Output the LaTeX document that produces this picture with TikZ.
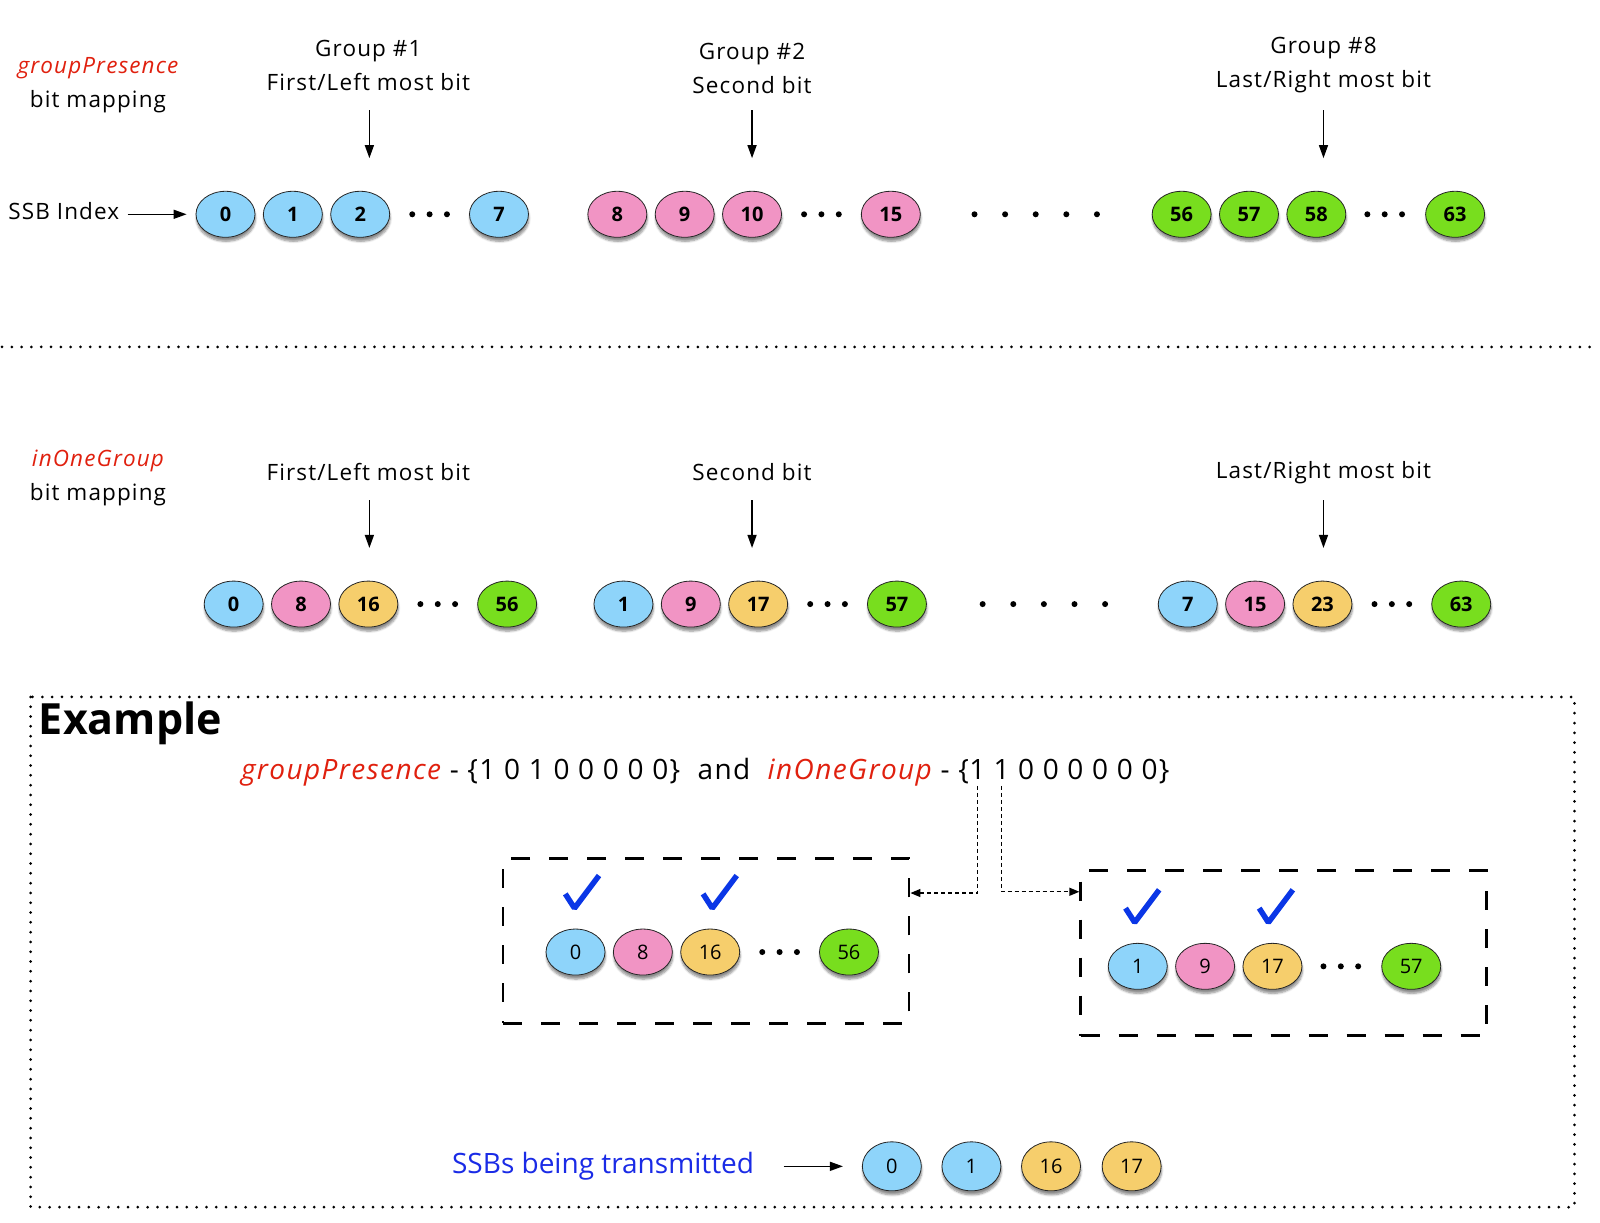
\documentclass[tikz,border=0pt]{standalone}
\usepackage{fontspec}
\setmainfont{Open Sans}
\newfontfamily\widefont{Open Sans}[LetterSpace=5]
\usetikzlibrary{arrows.meta,shapes.geometric,shadows.blur,calc}
\definecolor{cblue}{HTML}{8ED4FA}
\definecolor{cpink}{HTML}{F194C4}
\definecolor{cyell}{HTML}{F6CE6C}
\definecolor{cgreen}{HTML}{78DE1E}
\definecolor{cred}{HTML}{E0200E}
\definecolor{ctxtblue}{HTML}{1A2BE6}
\definecolor{checkblue}{HTML}{0A36E6}
\tikzset{
  ssb/.style={ellipse, draw=black!85, line width=0.8pt, minimum width=59pt, minimum height=46pt,
    inner sep=0pt, font=\fontsize{20}{20}\selectfont\bfseries,
    blur shadow={shadow xshift=0.5pt, shadow yshift=-4pt, shadow blur steps=6, shadow opacity=45}},
  ssbl/.style={ssb, font=\fontsize{20}{20}\selectfont},
  ssbc/.style={ssb, minimum width=59pt, minimum height=49pt, font=\fontsize{20}{20}\selectfont},
  sb/.style={fill=cblue}, sp/.style={fill=cpink}, sy/.style={fill=cyell}, sg/.style={fill=cgreen},
  lbl/.style={align=center, font=\widefont\fontsize{22.5}{34}\selectfont, inner sep=0pt},
  downarr/.style={line width=1.4pt, -{Triangle[length=13pt,width=9pt]}},
  dotline/.style={line width=3pt, line cap=round, dash pattern=on 0pt off 9.8pt},
  dbox/.style={draw, line width=2.6pt, dash pattern=on 19pt off 19pt, minimum width=406pt,
    minimum height=165pt, inner sep=0pt},
  darrow/.style={line width=1.3pt, dash pattern=on 4pt off 3pt, -{Triangle[length=10pt,width=8pt]}},
  extxt/.style={font=\widefont\fontsize{28}{30}\selectfont, inner sep=0pt, anchor=base west},
  chk/.pic={\draw[checkblue, line width=5.5pt, line join=bevel] (-9,-14) -- (0,0) -- (24,-32);}
}
\begin{document}
\begin{tikzpicture}[x=1.0204pt, y=-1.0204pt]
\useasboundingbox (0,0) rectangle (1568,1198.5);

% ---------- top section ----------
\node[lbl] (gpl) at (96,83) {\textcolor{cred}{\itshape groupPresence}\\bit mapping};
\node[lbl] (g1) at (361,64) {Group \#1\\First/Left most bit};
\node[lbl] (g2) at (737,67) {Group \#2\\Second bit};
\node[lbl] (g8) at (1297,64) {Group \#8\\Last/Right most bit};
\node[lbl, anchor=west] (ssbidx) at (8,207) {SSB Index};

\node[ssb,sb] (a0) at (221,210) {0};
\node[ssb,sb] (a1) at (287,210) {1};
\node[ssb,sb] (a2) at (353,210) {2};
\node[ssb,sb] (a7) at (489,210) {7};
\node[ssb,sp] (a8) at (605,210) {8};
\node[ssb,sp] (a9) at (671,210) {9};
\node[ssb,sp] (a10) at (737,210) {10};
\node[ssb,sp] (a15) at (873,210) {15};
\node[ssb,sg] (a56) at (1158,210) {56};
\node[ssb,sg] (a57) at (1224,210) {57};
\node[ssb,sg] (a58) at (1290,210) {58};
\node[ssb,sg] (a63) at (1426,210) {63};

\foreach \x in {404,421,438, 788,805,822, 1340,1357,1374} \fill (\x,210) circle (3pt);
\foreach \x in {955,985,1015,1045,1075} \fill (\x,210) circle (3pt);

\coordinate (t1) at (362,108);
\coordinate (t2) at (737,108);
\coordinate (t8) at (1297,108);
\draw[downarr] (t1) -- (t1 |- 0,155);
\draw[downarr] (t2) -- (t2 |- 0,155);
\draw[downarr] (t8) -- (t8 |- 0,155);
\coordinate (si) at (125,210);
\draw[downarr, shorten >=9pt] (si) -- (a0.west);

% separator
\draw[dotline] (2,340) -- (1566,340);

% ---------- second section ----------
\node[lbl] (iogl) at (96,468) {\textcolor{cred}{\itshape inOneGroup}\\bit mapping};
\node[lbl] (b1) at (361,463) {First/Left most bit};
\node[lbl] (b2) at (737,463) {Second bit};
\node[lbl] (b8) at (1297,463) {Last/Right most bit};

\coordinate (u1) at (362,490);
\coordinate (u2) at (737,490);
\coordinate (u8) at (1297,490);
\draw[downarr] (u1) -- (u1 |- 0,537);
\draw[downarr] (u2) -- (u2 |- 0,537);
\draw[downarr] (u8) -- (u8 |- 0,537);

\node[ssb,sb] (r0) at (229,592) {0};
\node[ssb,sp] (r8) at (295,592) {8};
\node[ssb,sy] (r16) at (361,592) {16};
\node[ssb,sg] (r56) at (497,592) {56};
\node[ssb,sb] (r1) at (611,592) {1};
\node[ssb,sp] (r9) at (677,592) {9};
\node[ssb,sy] (r17) at (743,592) {17};
\node[ssb,sg] (r57) at (879,592) {57};
\node[ssb,sb] (r7) at (1164,592) {7};
\node[ssb,sp] (r15) at (1230,592) {15};
\node[ssb,sy] (r23) at (1296,592) {23};
\node[ssb,sg] (r63) at (1432,592) {63};
\foreach \x in {412,429,446, 794,811,828, 1347,1364,1381} \fill (\x,592) circle (3pt);
\foreach \x in {963,993,1023,1053,1083} \fill (\x,592) circle (3pt);

% ---------- example ----------
\draw[dotline] (30,683) rectangle (1543,1183);
\node[font=\fontsize{43}{44}\selectfont\bfseries, anchor=west, inner sep=0pt] (exttl) at (38,709) {Example};

\node[extxt] (exA) at (236,764) {\textcolor{cred}{\itshape groupPresence} - \{1 0 1 0 0 0 0 0\}\ \ and\ \ \textcolor{cred}{\itshape inOneGroup} - \{};
\node[extxt] (bitA) at (exA.base east) {1};
\node[extxt] (bitB) at ([xshift=8pt]bitA.base east) {1};
\node[extxt] (exC) at ([xshift=8pt]bitB.base east) {0 0 0 0 0 0\}};

\node[dbox] (box1) at (692,922) {};
\node[dbox] (box2) at (1258,934) {};

\draw[darrow] ([yshift=-6pt]bitA.south) |- ([yshift=-36pt]box1.north east);
\draw[darrow] ([yshift=-6pt]bitB.south) |- ([yshift=-22.5pt]box2.north west);

\pic at (563,890) {chk};
\pic at (698,890) {chk};
\node[ssbl,sb] (e0) at (564,933) {0};
\node[ssbl,sp] (e8) at (630,933) {8};
\node[ssbl,sy] (e16) at (696,933) {16};
\node[ssbl,sg] (e56) at (832,933) {56};
\foreach \x in {747,764,781} \fill (\x,933) circle (3pt);

\pic at (1112,904) {chk};
\pic at (1243,904) {chk};
\node[ssbl,sb] (f1) at (1115,947) {1};
\node[ssbl,sp] (f9) at (1181,947) {9};
\node[ssbl,sy] (f17) at (1247,947) {17};
\node[ssbl,sg] (f57) at (1383,947) {57};
\foreach \x in {1297,1314,1331} \fill (\x,947) circle (3pt);

\node[font=\fontsize{28}{30}\selectfont, text=ctxtblue, inner sep=0pt] (ssbt) at (591,1143) {SSBs being transmitted};
\node[ssbc,sb] (t0) at (874,1143) {0};
\node[ssbc,sb] (tt1) at (952,1143) {1};
\node[ssbc,sy] (t16) at (1030,1143) {16};
\node[ssbc,sy] (t17) at (1109,1143) {17};
\coordinate (ta) at (768,1143);
\draw[downarr, shorten >=19pt] (ta) -- (t0.west);
\end{tikzpicture}
\end{document}
